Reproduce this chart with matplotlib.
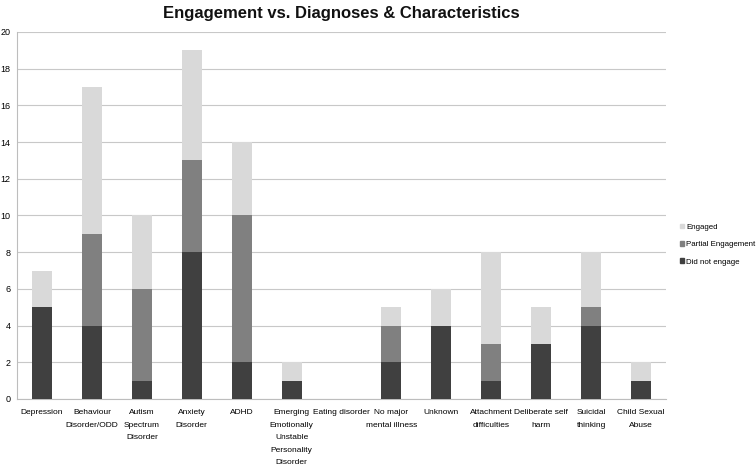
import matplotlib
matplotlib.use("Agg")
import matplotlib.pyplot as plt
import numpy as np
from matplotlib.patches import Patch

plt.rcParams['font.family'] = ['Liberation Sans', 'DejaVu Sans']

categories = ["Depression", "Behaviour\nDisorder/ODD", "Autism\nSpectrum\nDisorder",
              "Anxiety\nDisorder", "ADHD", "Emerging\nEmotionally\nUnstable\nPersonality\nDisorder",
              "Eating disorder", "No major\nmental illness", "Unknown", "Attachment\ndifficulties",
              "Deliberate self\nharm", "Suicidal\nthinking", "Child Sexual\nAbuse"]
did_not_engage = [5, 4, 1, 8, 2, 1, 0, 2, 4, 1, 3, 4, 1]
partial = [0, 5, 5, 5, 8, 0, 0, 2, 0, 2, 0, 1, 0]
engaged = [2, 8, 4, 6, 4, 1, 0, 1, 2, 5, 2, 3, 1]
yticks = [0, 2, 4, 6, 8, 10, 12, 14, 16, 18, 20]

c_dne, c_par, c_eng = "#404040", "#808080", "#d9d9d9"

fig = plt.figure(figsize=(7.56, 4.66), dpi=100)
ax = fig.add_axes([0.0225, 0.1438, 0.8585, 0.7876])
x = np.arange(len(categories))
w = 0.40
dne = np.array(did_not_engage)
par = np.array(partial)
eng = np.array(engaged)
ax.bar(x, dne, w, color=c_dne, zorder=3)
ax.bar(x, par, w, bottom=dne, color=c_par, zorder=3)
ax.bar(x, eng, w, bottom=dne + par, color=c_eng, zorder=3)

ax.set_xlim(-0.5, len(categories) - 0.5)
ax.set_ylim(0, 20)
ax.set_yticks(yticks)
ax.set_yticklabels([str(v) for v in yticks], fontsize=6.5)
ax.set_xticks(x)
ax.set_xticklabels(categories, fontsize=6.0, linespacing=2.1, va='top')
ax.tick_params(axis='x', length=0, pad=7.5)
ax.tick_params(axis='y', length=0, pad=4.5)
ax.grid(axis='y', color='#c8c8c8', linewidth=0.8, zorder=0)
for s in ['top', 'right']:
    ax.spines[s].set_visible(False)
ax.spines['left'].set_color('#bdbdbd')
ax.spines['bottom'].set_color('#bdbdbd')

fig.text(0.4517, 0.97, "Engagement vs. Diagnoses & Characteristics", ha='center', va='center',
         fontsize=12, fontweight='bold', color='#111111')

handles = [Patch(color=c_eng), Patch(color=c_par), Patch(color=c_dne)]
labels = ["Engaged", "Partial Engagement", "Did not engage"]
fig.legend(handles, labels, loc='center left', bbox_to_anchor=(0.899, 0.475), frameon=False,
           fontsize=5.7, handlelength=0.5, handleheight=0.5, handletextpad=0.3, labelspacing=1.3,
           borderaxespad=0.0, borderpad=0.0)

fig.savefig("out.png", dpi=100)
